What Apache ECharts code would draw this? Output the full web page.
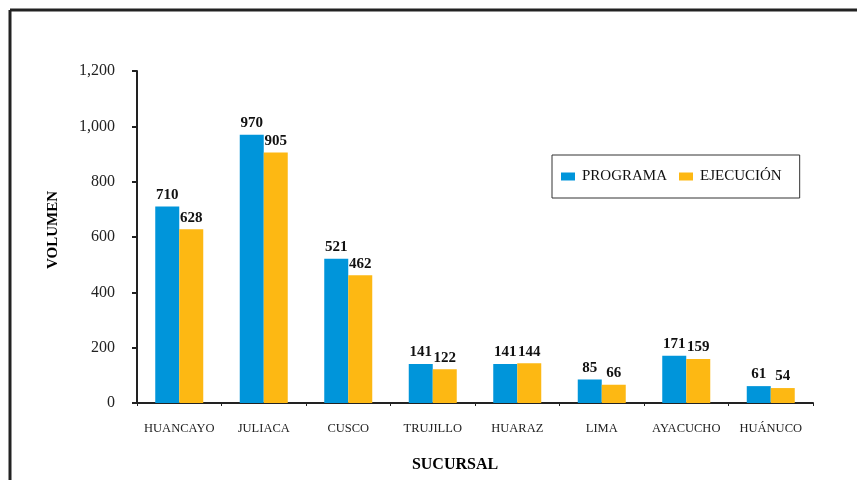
<!DOCTYPE html>
<html>
<head>
<meta charset="utf-8">
<script src="https://cdn.jsdelivr.net/npm/echarts@6/dist/echarts.min.js"></script>
<style>
  html, body { margin: 0; padding: 0; background: #fff; }
  #chart { width: 857px; height: 480px; }
</style>
</head>
<body>
<div id="chart"></div>
<script>
  // datos
  var sucursales = ['HUANCAYO', 'JULIACA', 'CUSCO', 'TRUJILLO', 'HUARAZ', 'LIMA', 'AYACUCHO', 'HUÁNUCO']
  var programa = [710, 970, 521, 141, 141, 85, 171, 61]
  var ejecucion = [628, 905, 462, 122, 144, 66, 159, 54]

  var serif = '"Liberation Serif", "DejaVu Serif", serif'

  var chart = echarts.init(document.getElementById('chart'))
  var option = {
    animation: false,
    backgroundColor: '#fff',
    textStyle: { fontFamily: serif },
    graphic: [
      { type: 'line', shape: { x1: 10, y1: 10, x2: 10, y2: 480 }, style: { stroke: '#222', lineWidth: 3 } },
      { type: 'line', shape: { x1: 10, y1: 10, x2: 857, y2: 10 }, style: { stroke: '#222', lineWidth: 3 } }
    ],
    legend: {
      left: 552,
      top: 155,
      padding: [14, 18, 14, 9],
      borderColor: '#333',
      borderWidth: 1,
      itemWidth: 14,
      itemHeight: 8,
      itemGap: 12,
      icon: 'rect',
      textStyle: { fontFamily: serif, fontSize: 15, color: '#111', padding: [0, 0, 0, 2] },
      data: ['PROGRAMA', 'EJECUCIÓN']
    },
    grid: { left: 137, top: 71, right: 44, bottom: 77, outerBoundsMode: 'none' },
    xAxis: {
      type: 'category',
      data: sucursales,
      name: 'SUCURSAL',
      nameLocation: 'middle',
      nameGap: 54,
      nameTextStyle: { fontFamily: serif, fontSize: 16, fontWeight: 'bold', color: '#000', padding: [0, 40, 0, 0] },
      axisLine: { lineStyle: { color: '#222', width: 2 } },
      axisTick: { show: true, length: 3, lineStyle: { color: '#222' } },
      axisLabel: { interval: 0, fontFamily: serif, fontSize: 12.5, color: '#222', margin: 19 }
    },
    yAxis: {
      type: 'value',
      min: 0,
      max: 1200,
      interval: 200,
      name: 'VOLUMEN',
      nameLocation: 'middle',
      nameGap: 76,
      nameTextStyle: { fontFamily: serif, fontSize: 15, fontWeight: 'bold', color: '#000', padding: [0, 0, 0, 14] },
      axisLine: { show: true, lineStyle: { color: '#222', width: 2 } },
      axisTick: { show: true, inside: false, length: 5, lineStyle: { color: '#222', width: 2 } },
      splitLine: { show: false },
      axisLabel: {
        fontFamily: serif, fontSize: 16, color: '#222', margin: 22,
        formatter: function (v) { return v.toLocaleString('en-US') }
      }
    },
    series: [
      {
        name: 'PROGRAMA',
        type: 'bar',
        data: programa,
        barWidth: 24,
        barGap: '0%',
        itemStyle: { color: '#0095DA' },
        label: { show: true, position: 'top', distance: 4, fontFamily: serif, fontSize: 15, fontWeight: 'bold', color: '#111' }
      },
      {
        name: 'EJECUCIÓN',
        type: 'bar',
        data: ejecucion,
        barWidth: 24,
        itemStyle: { color: '#FDB813' },
        label: { show: true, position: 'top', distance: 4, fontFamily: serif, fontSize: 15, fontWeight: 'bold', color: '#111' }
      }
    ]
  }
  chart.setOption(option)
</script>
</body>
</html>
